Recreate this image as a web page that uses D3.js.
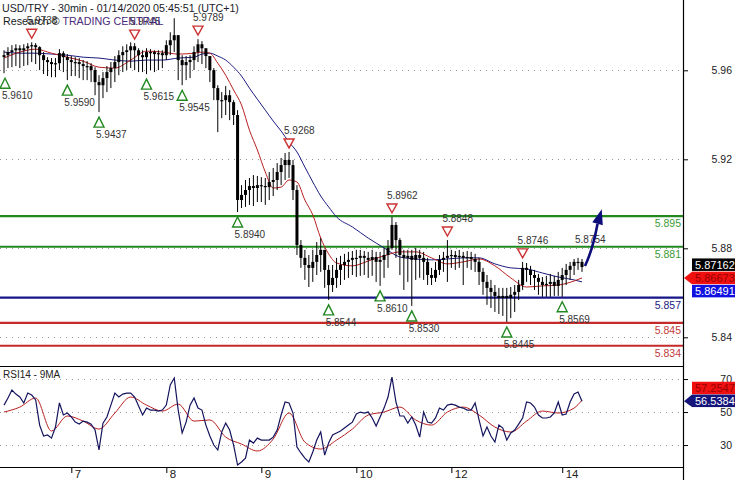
<!DOCTYPE html>
<html><head><meta charset="utf-8">
<script src="https://cdn.jsdelivr.net/npm/d3@7"></script>
<style>body{margin:0;background:#fff;} svg{display:block;font-family:"Liberation Sans",Arial,sans-serif;}</style>
</head><body><svg id="c" width="735" height="480"></svg>
<script>
// ---------- DATA (USD/TRY, hourly-sampled from the 30min chart) ----------
const firstOpen = 5.9660;
const closes = [5.9668,5.9682,5.9690,5.9699,5.9690,5.9699,5.9708,5.9713,5.9704,5.9668,
 5.9646,5.9637,5.9628,5.9632,5.9677,5.9659,5.9646,5.9637,5.9637,5.9628,
 5.9619,5.9619,5.9601,5.9547,5.9533,5.9565,5.9592,5.9610,5.9637,5.9668,
 5.9682,5.9690,5.9708,5.9690,5.9668,5.9659,5.9682,5.9682,5.9673,5.9677,
 5.9668,5.9713,5.9735,5.9758,5.9646,5.9623,5.9637,5.9646,5.9682,5.9717,
 5.9699,5.9664,5.9601,5.9520,5.9466,5.9466,5.9488,5.9457,5.9399,5.9017,
 5.9040,5.9062,5.9080,5.9071,5.9084,5.9080,5.9075,5.9098,5.9107,5.9143,
 5.9174,5.9197,5.9174,5.9062,5.8815,5.8757,5.8725,5.8712,5.8739,5.8770,
 5.8793,5.8703,5.8635,5.8667,5.8703,5.8725,5.8739,5.8748,5.8757,5.8757,
 5.8766,5.8757,5.8748,5.8761,5.8739,5.8748,5.8770,5.8802,5.8905,5.8837,
 5.8770,5.8757,5.8766,5.8748,5.8770,5.8757,5.8739,5.8680,5.8667,5.8703,
 5.8748,5.8757,5.8766,5.8770,5.8761,5.8766,5.8757,5.8761,5.8752,5.8739,
 5.8694,5.8649,5.8622,5.8604,5.8586,5.8577,5.8586,5.8577,5.8591,5.8604,
 5.8635,5.8712,5.8703,5.8680,5.8667,5.8649,5.8635,5.8640,5.8649,5.8631,
 5.8658,5.8680,5.8703,5.8721,5.8739,5.8739,5.8716];
const highs = [5.9690,5.9704,5.9713,5.9717,5.9713,5.9717,5.9722,5.9726,5.9722,5.9708,
 5.9682,5.9659,5.9655,5.9655,5.9695,5.9686,5.9673,5.9664,5.9659,5.9655,
 5.9646,5.9641,5.9632,5.9614,5.9578,5.9592,5.9619,5.9637,5.9664,5.9690,
 5.9708,5.9717,5.9726,5.9722,5.9699,5.9690,5.9699,5.9695,5.9690,5.9690,
 5.9690,5.9735,5.9771,5.9834,5.9758,5.9668,5.9664,5.9668,5.9708,5.9740,
 5.9731,5.9699,5.9664,5.9610,5.9533,5.9502,5.9529,5.9511,5.9466,5.9421,
 5.9084,5.9107,5.9116,5.9129,5.9125,5.9120,5.9116,5.9143,5.9161,5.9183,
 5.9206,5.9228,5.9233,5.9197,5.9084,5.8837,5.8793,5.8770,5.8793,5.8828,
 5.8846,5.8793,5.8725,5.8725,5.8757,5.8766,5.8775,5.8784,5.8788,5.8793,
 5.8793,5.8788,5.8784,5.8793,5.8784,5.8784,5.8802,5.8837,5.8941,5.8918,
 5.8846,5.8793,5.8793,5.8793,5.8802,5.8793,5.8784,5.8757,5.8712,5.8739,
 5.8770,5.8784,5.8837,5.8793,5.8788,5.8793,5.8784,5.8788,5.8784,5.8775,
 5.8757,5.8712,5.8680,5.8658,5.8635,5.8622,5.8622,5.8622,5.8626,5.8635,
 5.8658,5.8739,5.8734,5.8721,5.8703,5.8685,5.8671,5.8676,5.8685,5.8676,
 5.8694,5.8712,5.8730,5.8739,5.8752,5.8757,5.8752];
const lows = [5.9587,5.9610,5.9614,5.9619,5.9610,5.9619,5.9623,5.9637,5.9628,5.9601,
 5.9583,5.9574,5.9569,5.9569,5.9601,5.9592,5.9556,5.9574,5.9574,5.9565,
 5.9556,5.9556,5.9547,5.9488,5.9412,5.9475,5.9502,5.9520,5.9547,5.9578,
 5.9592,5.9601,5.9610,5.9601,5.9592,5.9592,5.9583,5.9601,5.9592,5.9601,
 5.9610,5.9646,5.9668,5.9682,5.9556,5.9533,5.9556,5.9565,5.9601,5.9637,
 5.9628,5.9610,5.9547,5.9466,5.9322,5.9385,5.9399,5.9376,5.9354,5.8963,
 5.8981,5.8986,5.8995,5.8990,5.9008,5.9008,5.8995,5.9017,5.9035,5.9062,
 5.9084,5.9107,5.9116,5.9017,5.8770,5.8712,5.8658,5.8626,5.8649,5.8680,
 5.8694,5.8622,5.8568,5.8604,5.8622,5.8635,5.8658,5.8667,5.8680,5.8671,
 5.8676,5.8680,5.8667,5.8676,5.8649,5.8631,5.8667,5.8712,5.8793,5.8757,
 5.8680,5.8613,5.8649,5.8541,5.8658,5.8667,5.8658,5.8635,5.8635,5.8649,
 5.8680,5.8694,5.8649,5.8712,5.8703,5.8712,5.8635,5.8712,5.8703,5.8694,
 5.8635,5.8591,5.8546,5.8532,5.8514,5.8505,5.8496,5.8469,5.8487,5.8514,
 5.8568,5.8613,5.8649,5.8635,5.8613,5.8591,5.8582,5.8582,5.8582,5.8586,
 5.8586,5.8582,5.8635,5.8658,5.8680,5.8703,5.8694];

// moving averages sampled at bar indices
const maIdx = [0,4,8,12,16,20,24,28,32,36,40,44,48,50,52,54,56,58,60,62,64,66,68,70,72,74,76,78,80,82,84,88,92,96,100,104,108,112,116,120,124,128,132,136,140,144,146];
const maFast = [5.9655,5.9682,5.9695,5.9677,5.9659,5.9641,5.9614,5.9610,5.9646,5.9686,5.9682,5.9673,5.9677,5.9682,5.9677,5.9632,5.9578,5.9511,5.9444,5.9331,5.9242,5.9143,5.9071,5.9075,5.9107,5.9098,5.9017,5.8950,5.8846,5.8775,5.8734,5.8721,5.8743,5.8766,5.8784,5.8784,5.8757,5.8730,5.8739,5.8752,5.8721,5.8667,5.8626,5.8631,5.8635,5.8653,5.8667];
const maSlow = [5.9682,5.9677,5.9677,5.9673,5.9668,5.9659,5.9655,5.9646,5.9641,5.9646,5.9646,5.9655,5.9659,5.9673,5.9677,5.9664,5.9646,5.9614,5.9574,5.9520,5.9470,5.9421,5.9372,5.9327,5.9277,5.9233,5.9165,5.9098,5.9035,5.8986,5.8941,5.8896,5.8846,5.8802,5.8761,5.8752,5.8748,5.8752,5.8757,5.8757,5.8730,5.8712,5.8707,5.8689,5.8671,5.8658,5.8649];

// RSI14 per bar, and its 9MA sampled
const rsi = [54.2,58.5,63.3,60.9,59.1,55.5,61.5,60.3,57.3,42.1,
 35.5,36.1,34.2,40.9,55.5,48.2,49.4,47.0,43.9,42.7,
 44.5,43.9,42.7,39.1,27.0,43.3,47.0,54.2,61.5,59.1,
 60.9,61.5,61.5,59.1,53.6,48.2,52.4,51.2,51.2,50.6,
 51.2,54.2,66.4,70.6,51.2,37.3,43.9,54.2,58.5,52.4,
 51.2,42.1,35.5,30.0,27.0,37.9,43.3,39.1,30.0,17.9,
 19.7,22.1,33.0,31.2,34.2,33.0,33.0,33.0,34.8,39.1,
 48.2,56.1,55.5,49.4,28.8,25.2,22.1,19.7,25.8,33.0,
 37.9,23.9,31.2,36.1,37.3,38.5,40.3,42.1,43.9,48.8,
 50.0,49.4,50.0,46.4,41.5,47.0,52.4,59.1,71.2,56.1,
 47.6,47.6,43.3,47.0,42.1,34.8,50.0,43.9,43.3,46.4,
 52.4,51.2,54.2,54.8,54.2,53.0,52.4,51.2,51.2,55.5,
 45.2,35.5,40.9,35.5,31.8,42.1,40.3,33.0,37.3,39.1,
 42.7,46.4,56.1,55.5,53.0,48.2,46.4,46.4,47.0,49.4,
 56.1,48.2,48.8,56.1,60.9,62.1,56.5];
const rsiMaIdx = [0,4,8,12,16,20,24,28,32,36,40,44,48,52,56,60,64,68,72,76,80,84,88,92,96,100,104,108,112,116,120,124,128,132,136,140,144,146];
const rsiMa = [50.0,53.0,58.5,38.5,47.6,44.5,39.7,49.4,59.1,54.2,50.6,54.8,44.5,45.2,34.8,30.6,26.4,33.6,49.4,31.8,27.6,33.0,39.7,48.2,50.0,53.0,45.2,42.1,50.0,53.0,48.2,40.9,37.9,44.5,50.6,49.4,52.4,57.3];

// axes
const dayTickIdx = [17,41,65,89,113,141];
const dayLabels = ["7","8","9","10","12","14"];
const priceTicks = [5.84,5.88,5.92,5.96];
const rsiTicks = [30,50,70];

// support / resistance levels
const levelValues = [5.8945,5.8807,5.8578,5.8465,5.8362];
const levelTexts = ["5.895","5.881","5.857","5.845","5.834"];
const levelKinds = ["res","res","pivot","sup","sup"];

// swing markers
const highMarkIdx = [7,33,49,72,98,112,131];
const highMarkText = ["5.9738","5.9745","5.9789","5.9268","5.8962","5.8848","5.8746"];
const lowMarkIdx = [0,16,24,36,45,59,82,95,103,127,141];
const lowMarkText = ["5.9610","5.9590","5.9437","5.9615","5.9545","5.8940","5.8544","5.8610","5.8530","5.8445","5.8569"];

// projection arrow & last values
const arrowEndIdx = 151, arrowEndVal = 5.8975, arrowText = "5.8754";
const lastPriceTexts = ["5.87162","5.86673","5.86491"]; // close, fast MA, slow MA
const lastRsiTexts = ["57.2547","56.5384"];             // 9MA, RSI

// ---------- DRAW ----------
const svg = d3.select("#c");
const W = 735, H = 480, AX = 683, PB = 366, RT = 366, RB = 467;
const x = d3.scaleLinear().domain([0,146]).range([4,582]);
const y = d3.scaleLinear().domain([5.8271,5.9916]).range([PB,0]);
const ry = d3.scaleLinear().domain([16.7,77.9]).range([RB,RT]);
const kindColor = {res:"#23891f", pivot:"#16168a", sup:"#c42a2a"};
const kindText = {res:"#3c9a38", pivot:"#1a1a80", sup:"#c23a3a"};

const defs = svg.append("defs");
defs.append("clipPath").attr("id","cm").append("rect").attr("x",0).attr("y",0).attr("width",AX).attr("height",PB);
defs.append("clipPath").attr("id","cr").append("rect").attr("x",0).attr("y",RT).attr("width",AX).attr("height",RB-RT);

const gM = svg.append("g").attr("clip-path","url(#cm)");
const gR = svg.append("g").attr("clip-path","url(#cr)");

// grids
gM.selectAll(".g").data(priceTicks).join("line")
  .attr("x1",0).attr("x2",AX).attr("y1",d=>Math.round(y(d))+0.5).attr("y2",d=>Math.round(y(d))+0.5)
  .attr("stroke","#9a9a9a").attr("stroke-dasharray","1,5");
gR.selectAll(".g").data(rsiTicks).join("line")
  .attr("x1",0).attr("x2",AX).attr("y1",d=>Math.round(ry(d))+0.5).attr("y2",d=>Math.round(ry(d))+0.5)
  .attr("stroke","#9a9a9a").attr("stroke-dasharray","1,5");

// levels
levelValues.forEach((v,k)=>{
  gM.append("line").attr("x1",0).attr("x2",AX).attr("y1",y(v)).attr("y2",y(v))
    .attr("stroke",kindColor[levelKinds[k]]).attr("stroke-width",2.2);
  gM.append("text").attr("x",AX-2).attr("y",y(v)+11).attr("text-anchor","end")
    .attr("font-size","10.5px").attr("fill",kindText[levelKinds[k]]).text(levelTexts[k]);
});

// moving averages
const maLine = vals => d3.line().x((d,k)=>x(maIdx[k])).y(d=>y(d)).curve(d3.curveMonotoneX)(vals);
gM.append("path").attr("d",maLine(maSlow)).attr("fill","none").attr("stroke","#1c1c80").attr("stroke-width",1);
gM.append("path").attr("d",maLine(maFast)).attr("fill","none").attr("stroke","#b82020").attr("stroke-width",1);

// candles
const bars = closes.map((c,i)=>({i, o: i ? closes[i-1] : firstOpen, h: highs[i], l: lows[i], c}));
const gc = gM.append("g");
gc.selectAll("line").data(bars).join("line")
  .attr("x1",d=>x(d.i)).attr("x2",d=>x(d.i))
  .attr("y1",d=>y(Math.max(d.h,d.o,d.c))).attr("y2",d=>y(Math.min(d.l,d.o,d.c)))
  .attr("stroke","#000").attr("stroke-width",1);
gc.selectAll("rect").data(bars).join("rect")
  .attr("x",d=>x(d.i)-1.5).attr("width",3)
  .attr("y",d=>y(Math.max(d.o,d.c)))
  .attr("height",d=>Math.max(1.2, y(Math.min(d.o,d.c))-y(Math.max(d.o,d.c))))
  .attr("fill","#000");

// swing markers
highMarkIdx.forEach((i,k)=>{
  const cx = x(i), b = y(highs[i]) - 4, t = b - 9;
  gM.append("path").attr("d",`M${cx-5},${t}L${cx+5},${t}L${cx},${b}Z`)
    .attr("fill","#fff").attr("stroke","#cc3333").attr("stroke-width",1.4);
  gM.append("text").attr("x",cx-5).attr("y",t-5).attr("font-size","10px").attr("fill","#333").text(highMarkText[k]);
});
lowMarkIdx.forEach((i,k)=>{
  const cx = Math.max(5,x(i)), t = y(lows[i]) + 5, b = t + 10;
  gM.append("path").attr("d",`M${cx-5},${b}L${cx+5},${b}L${cx},${t}Z`)
    .attr("fill","#fff").attr("stroke","#228822").attr("stroke-width",1.4);
  gM.append("text").attr("x",cx-3).attr("y",b+11).attr("font-size","10px").attr("fill","#333").text(lowMarkText[k]);
});

// projection arrow
const ax0 = x(146)+3, ay0 = y(closes[146])-1, ax1 = x(arrowEndIdx), ay1 = y(arrowEndVal);
gM.append("text").attr("x",x(146)-7).attr("y",y(levelValues[1])-4).attr("font-size","10px").attr("fill","#333").text(arrowText);
const ang = Math.atan2(ay1-ay0, ax1-ax0);
const bx = ax1 - 15*Math.cos(ang), by = ay1 - 15*Math.sin(ang);
gM.append("path").attr("d",`M${ax0},${ay0}Q${ax0+8},${(ay0+by)/2+4} ${bx},${by}`)
  .attr("fill","none").attr("stroke","#0d0d7a").attr("stroke-width",2.6);
const px = -Math.sin(ang)*5.5, py = Math.cos(ang)*5.5;
gM.append("path").attr("d",`M${ax1},${ay1}L${bx+px},${by+py}L${bx-px},${by-py}Z`).attr("fill","#0d0d7a");

// RSI
gR.append("path").attr("d", d3.line().x((d,k)=>x(rsiMaIdx[k])).y(d=>ry(d)).curve(d3.curveMonotoneX)(rsiMa))
  .attr("fill","none").attr("stroke","#b82020").attr("stroke-width",1);
gR.append("path").attr("d", d3.line().x((d,i)=>x(i)).y(d=>ry(d))(rsi))
  .attr("fill","none").attr("stroke","#14145e").attr("stroke-width",1.2);

// frame lines
svg.append("line").attr("x1",AX+0.5).attr("x2",AX+0.5).attr("y1",0).attr("y2",H).attr("stroke","#000").attr("stroke-width",1.2);
svg.append("line").attr("x1",0).attr("x2",AX).attr("y1",PB+0.5).attr("y2",PB+0.5).attr("stroke","#000").attr("stroke-width",1.2);
svg.append("line").attr("x1",0).attr("x2",AX).attr("y1",RB+0.5).attr("y2",RB+0.5).attr("stroke","#000").attr("stroke-width",1.2);

// right axes
function styleAxis(g){
  g.attr("font-family",null).attr("font-size",null);
  g.select(".domain").remove();
  g.selectAll("line").attr("stroke","#000");
  g.selectAll("text").attr("x",49).attr("text-anchor","end").attr("font-size","10.5px").attr("fill","#222");
}
svg.append("g").attr("transform",`translate(${AX},0)`)
  .call(d3.axisRight(y).tickValues(priceTicks).tickSize(5).tickFormat(d3.format(".2f"))).call(styleAxis);
svg.append("g").attr("transform",`translate(${AX},0)`)
  .call(d3.axisRight(ry).tickValues(rsiTicks).tickSize(5).tickFormat(d3.format("d"))).call(styleAxis);

// bottom axis
const axB = svg.append("g").attr("transform",`translate(0,${RB})`)
  .call(d3.axisBottom(x).tickValues(dayTickIdx).tickSize(6).tickFormat((d,k)=>dayLabels[k]));
axB.attr("font-family",null).attr("font-size",null);
axB.select(".domain").remove();
axB.selectAll("line").attr("stroke","#000");
axB.selectAll("text").attr("x",3).attr("y",11).attr("dy","0").attr("text-anchor","start").attr("font-size","11.5px").attr("fill","#222");

// last value boxes
function box(cy, txt, bg, fg, pointerY){
  const h = 12.5, bx0 = 692;
  if (pointerY !== undefined)
    svg.append("path").attr("d",`M${AX+1},${pointerY}L${bx0},${cy-h/2}L${bx0},${cy+h/2}Z`).attr("fill",bg);
  svg.append("rect").attr("x",bx0).attr("y",cy-h/2).attr("width",W-bx0).attr("height",h).attr("fill",bg);
  svg.append("text").attr("x",bx0+3).attr("y",cy+4).attr("font-size","11px").attr("fill",fg).text(txt);
}
const fastLast = maFast[maFast.length-1], slowLast = maSlow[maSlow.length-1];
const cRed = y(fastLast);
box(cRed-13.2, lastPriceTexts[0], "#000", "#fff");
box(cRed, lastPriceTexts[1], "#f01010", "#9a0000", y(fastLast));
box(cRed+13.2, lastPriceTexts[2], "#1010e0", "#fff");
const cNav = ry(rsi[rsi.length-1]) - 0.5;
box(cNav-12.8, lastRsiTexts[0], "#f01010", "#9a0000");
box(cNav, lastRsiTexts[1], "#14147a", "#fff", ry(rsi[rsi.length-1]));

// titles
svg.append("text").attr("x",2).attr("y",12).attr("font-size","10.7px").attr("fill","#1a1a2a")
  .text("USD/TRY - 30min - 01/14/2020 05:45:51 (UTC+1)");
const t2 = svg.append("text").attr("x",3).attr("y",25).attr("font-size","10.7px");
t2.append("tspan").attr("fill","#1a1a1a").text("Research © ");
t2.append("tspan").attr("fill","#4a2a7a").text("TRADING CENTRAL");
svg.append("text").attr("x",3).attr("y",378).attr("font-size","10px").attr("fill","#222").text("RSI14 - 9MA");
</script></body></html>
